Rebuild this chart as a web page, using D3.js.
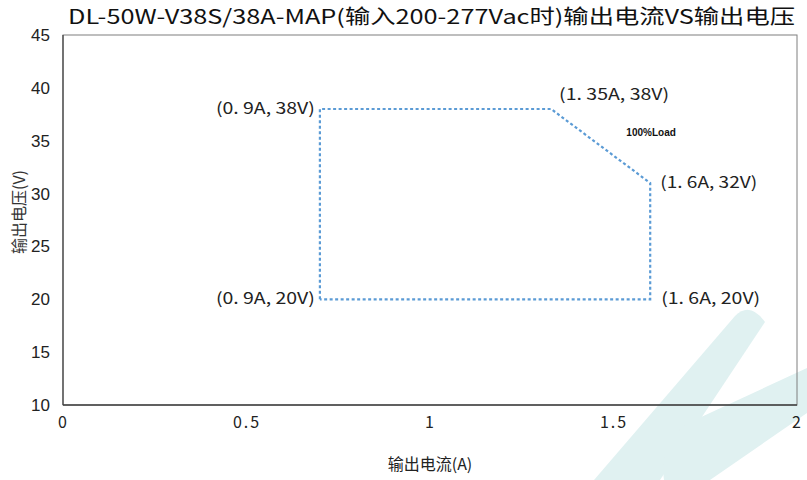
<!DOCTYPE html>
<html><head><meta charset="utf-8">
<script src="https://cdn.jsdelivr.net/npm/d3@7"></script>
<style>body{margin:0;background:#fff}svg{display:block}</style>
</head><body>
<script>
const title = "DL-50W-V38S/38A-MAP(输入200-277Vac时)输出电流VS输出电压";
const xLabel = "输出电流(A)";
const yLabel = "输出电压(V)";
const xTicks = [0, 0.5, 1, 1.5, 2];
const xTickLabels = ["0", "0.5", "1", "1.5", "2"];
const yTicks = [10, 15, 20, 25, 30, 35, 40, 45];
// polygon vertices as plotted (current A, voltage V)
const curX = [0.70, 0.70, 1.33, 1.60, 1.60, 0.70];
const voltY = [20, 38, 38, 31, 20, 20];
// point annotations
const annText = ["(0. 9A, 38V)", "(1. 35A, 38V)", "(1. 6A, 32V)", "(0. 9A, 20V)", "(1. 6A, 20V)"];
const annX = [0.70, 1.33, 1.60, 0.70, 1.60];
const annY = [38, 38, 31, 20, 20];
const loadNote = "100%Load";

const W = 807, H = 480;
const m = {l: 63, r: 10, t: 35, b: 75};
const svg = d3.select("body").append("svg").attr("width", W).attr("height", H);

// faint watermark stripes
const wm = svg.append("g").attr("fill", "#e0f1f1");
wm.append("path").attr("d", "M594,480 L735,316 Q750,301 765,322 L660,480 Z");
wm.append("path").attr("d", "M664,480 Q659,446 686,424 L807,368 L807,413 L710,480 Z");

const x = d3.scaleLinear().domain([0, 2]).range([m.l, W - m.r]);
const y = d3.scaleLinear().domain([10, 45]).range([H - m.b, m.t]);

// frame
svg.append("rect").attr("x", x(0)).attr("y", y(45)).attr("width", x(2) - x(0)).attr("height", y(10) - y(45))
  .attr("fill", "none").attr("stroke", "#7f7f7f").attr("stroke-width", 1);
svg.append("line").attr("x1", x(0)).attr("x2", x(2)).attr("y1", y(10)).attr("y2", y(10)).attr("stroke", "#404040").attr("stroke-width", 1.5);
svg.append("line").attr("x1", x(0)).attr("x2", x(0)).attr("y1", y(10)).attr("y2", y(45)).attr("stroke", "#404040").attr("stroke-width", 1.2);

// y axis
const yAx = d3.axisLeft(y).tickValues(yTicks).tickSize(0).tickPadding(13);
svg.append("g").attr("transform", `translate(${x(0)},0)`).call(yAx)
  .call(g => g.select(".domain").remove())
  .selectAll("text").attr("font-family", "Liberation Sans, Arial, sans-serif").attr("font-size", 17).attr("fill", "#222");

// x axis
const xAx = d3.axisBottom(x).tickValues(xTicks).tickSize(0).tickPadding(12).tickFormat((d, i) => xTickLabels[i]);
svg.append("g").attr("transform", `translate(0,${y(10)})`).call(xAx)
  .call(g => g.select(".domain").remove())
  .selectAll("text").attr("font-family", "Noto Sans CJK SC, sans-serif").attr("font-size", 16).attr("fill", "#222")
  .attr("letter-spacing", 2);

// polygon
const line = d3.line().x((d, i) => x(curX[i])).y((d, i) => y(voltY[i]));
svg.append("path").datum(curX).attr("d", line).attr("fill", "none")
  .attr("stroke", "#5b9bd5").attr("stroke-width", 2.2).attr("stroke-dasharray", "3,2.5");

// annotations
const off = [[-5, 5, "end"], [8, -9, "start"], [10, 5, "start"], [-5, 5, "end"], [11, 5, "start"]];
const lens = [99, 110, 97, 99, 99];
svg.append("g").selectAll("text").data(annText).join("text")
  .attr("x", (d, i) => x(annX[i]) + off[i][0])
  .attr("y", (d, i) => y(annY[i]) + off[i][1])
  .attr("text-anchor", (d, i) => off[i][2])
  .attr("textLength", (d, i) => lens[i]).attr("lengthAdjust", "spacingAndGlyphs")
  .attr("font-family", "Noto Sans CJK SC, sans-serif").attr("font-size", 16).attr("fill", "#222")
  .text(d => d);

svg.append("text").attr("x", x(1.535)).attr("y", y(35.4)).attr("text-anchor", "start")
  .attr("font-family", "Liberation Sans, Arial, sans-serif").attr("font-weight", "bold").attr("font-size", 10).attr("fill", "#111")
  .text(loadNote);

// title
svg.append("text").attr("x", 68).attr("y", 24).attr("textLength", 727).attr("lengthAdjust", "spacingAndGlyphs")
  .attr("font-family", "Noto Sans CJK SC, sans-serif").attr("font-size", 20).attr("fill", "#111")
  .text(title);

// axis titles
svg.append("text").attr("x", 430).attr("y", 470).attr("text-anchor", "middle")
  .attr("font-family", "Noto Sans CJK SC, sans-serif").attr("font-size", 16).attr("fill", "#222").text(xLabel);
svg.append("text").attr("transform", "translate(25,212) rotate(-90)").attr("text-anchor", "middle")
  .attr("font-family", "Noto Sans CJK SC, sans-serif").attr("font-size", 16).attr("fill", "#333").text(yLabel);
</script>
</body></html>
